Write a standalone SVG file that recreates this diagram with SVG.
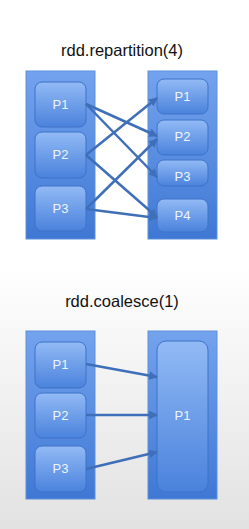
<svg xmlns="http://www.w3.org/2000/svg" width="249" height="529" viewBox="0 0 249 529">
<defs>
<linearGradient id="bg" x1="0" y1="0" x2="0" y2="1">
<stop offset="0" stop-color="#ffffff"/>
<stop offset="0.5" stop-color="#ffffff"/>
<stop offset="1" stop-color="#e2e2e2"/>
</linearGradient>
<linearGradient id="cont" x1="0" y1="0" x2="0" y2="1">
<stop offset="0" stop-color="#74a3ee"/>
<stop offset="1" stop-color="#3f78d4"/>
</linearGradient>
<linearGradient id="box" x1="0" y1="0" x2="0" y2="1">
<stop offset="0" stop-color="#92baf5"/>
<stop offset="1" stop-color="#4a82dc"/>
</linearGradient>
<marker id="arr" viewBox="0 0 10 10" refX="9" refY="5" markerWidth="3.5" markerHeight="3.5" orient="auto">
<path d="M0,0 L10,5 L0,10 z" fill="#3f6fb8"/>
</marker>
</defs>
<style>
.title{font-family:"Liberation Sans",Arial,sans-serif;font-size:16.5px;fill:#111;text-anchor:middle}
.cont{fill:url(#cont);stroke:#5d8fdc;stroke-width:1}
.box{fill:url(#box);stroke:#3f72c8;stroke-width:1}
.lbl{font-family:"Liberation Sans",Arial,sans-serif;font-size:13px;fill:#eef4ff;text-anchor:middle}
.edge{stroke:#3f6fb8;stroke-width:2.5;fill:none;marker-end:url(#arr)}
</style>
<rect x="0" y="0" width="249" height="529" fill="url(#bg)"/>

<text class="title" x="122" y="56">rdd.repartition(4)</text>
<text class="title" x="122" y="307">rdd.coalesce(1)</text>

<g id="rep-left">
<rect class="cont" x="26" y="71" width="69" height="168"/>
</g>
<g id="rep-left-p1"><rect class="box" x="35" y="82" width="51" height="45" rx="7"/><text class="lbl" x="60.5" y="109">P1</text></g>
<g id="rep-left-p2"><rect class="box" x="35" y="132" width="51" height="46" rx="7"/><text class="lbl" x="60.5" y="159">P2</text></g>
<g id="rep-left-p3"><rect class="box" x="35" y="186" width="51" height="45" rx="7"/><text class="lbl" x="60.5" y="213">P3</text></g>

<g id="rep-right">
<rect class="cont" x="148" y="71" width="69" height="168"/>
</g>
<g id="rep-right-p1"><rect class="box" x="157" y="79" width="51" height="35" rx="7"/><text class="lbl" x="182.5" y="101">P1</text></g>
<g id="rep-right-p2"><rect class="box" x="157" y="120" width="51" height="35" rx="7"/><text class="lbl" x="182.5" y="141">P2</text></g>
<g id="rep-right-p3"><rect class="box" x="157" y="160" width="51" height="26" rx="7"/><text class="lbl" x="182.5" y="181">P3</text></g>
<g id="rep-right-p4"><rect class="box" x="157" y="199" width="51" height="33" rx="7"/><text class="lbl" x="182.5" y="220">P4</text></g>

<g id="coa-left">
<rect class="cont" x="26" y="331" width="69" height="168"/>
</g>
<g id="coa-left-p1"><rect class="box" x="35" y="342" width="51" height="46" rx="7"/><text class="lbl" x="60.5" y="369">P1</text></g>
<g id="coa-left-p2"><rect class="box" x="35" y="393" width="51" height="45" rx="7"/><text class="lbl" x="60.5" y="420">P2</text></g>
<g id="coa-left-p3"><rect class="box" x="35" y="446" width="51" height="46" rx="7"/><text class="lbl" x="60.5" y="473">P3</text></g>

<g id="coa-right">
<rect class="cont" x="148" y="331" width="69" height="168"/>
</g>
<g id="coa-right-p1"><rect class="box" x="157" y="341" width="51" height="151" rx="9"/><text class="lbl" x="182.5" y="420">P1</text></g>

<g id="connectors">
<line class="edge" x1="86" y1="104" x2="157" y2="136"/>
<line class="edge" x1="86" y1="104" x2="157" y2="177"/>
<line class="edge" x1="86" y1="155" x2="157" y2="98"/>
<line class="edge" x1="86" y1="155" x2="157" y2="217"/>
<line class="edge" x1="86" y1="209" x2="157" y2="139"/>
<line class="edge" x1="86" y1="209" x2="157" y2="218"/>
<line class="edge" x1="86" y1="364" x2="157" y2="377"/>
<line class="edge" x1="86" y1="415" x2="157" y2="415"/>
<line class="edge" x1="86" y1="469" x2="157" y2="452"/>
</g>
</svg>
